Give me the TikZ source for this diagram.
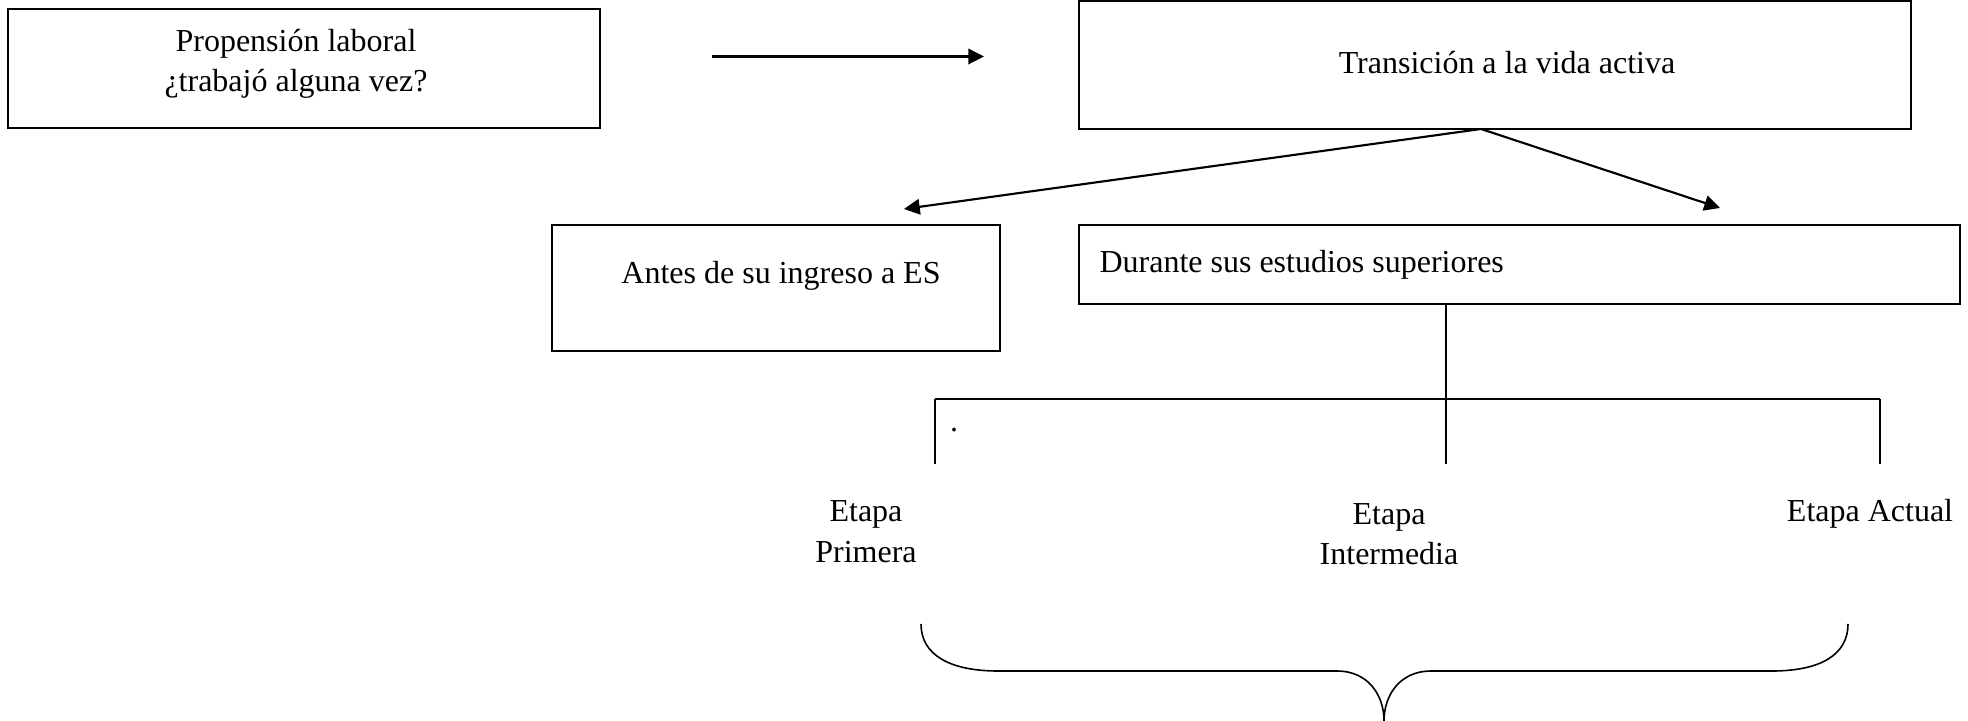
\documentclass[tikz,border=0pt]{standalone}
\usepackage{fontspec}
\setmainfont{Liberation Serif}
\usetikzlibrary{arrows.meta}
\begin{document}
\begin{tikzpicture}[x=0.375pt,y=-0.375pt,
  box/.style={draw, line width=0.75pt, inner sep=0pt, outer sep=0pt, anchor=north west},
  lbl/.style={font=\fontsize{12}{14.5}\selectfont, inner sep=0pt, align=center},
  conn/.style={line width=0.8pt, -{Triangle[length=5.9pt,width=5.8pt]}},
  thin/.style={line width=0.4pt},
  bar/.style={line width=0.75pt}]
\useasboundingbox (0,0) rectangle (1968,721);
% boxes
\node[box, minimum width=222.2pt, minimum height=44.7pt] (b1) at (7.5,8.8) {};
\node[box, minimum width=312pt, minimum height=47.8pt] (b2) at (1079,1.5) {};
\node[box, minimum width=168pt, minimum height=47.25pt] (b3) at (552,225) {};
\node[box, minimum width=330.4pt, minimum height=29.6pt] (b4) at (1079,225) {};
\coordinate (b1e) at (712,56.5);
\coordinate (b2w) at (984,56.5);
\coordinate (b2s) at (1481,129);
\coordinate (b3t) at (904,209);
\coordinate (b4t) at (1720,208);
\coordinate (b4s) at (1446,304);
\coordinate (jl) at (935,399);
\coordinate (jr) at (1880,399);
\coordinate (jld) at (935,464);
\coordinate (jrd) at (1880,464);
\coordinate (jmd) at (1446,464);
% texts
\node[lbl] (t1) at (296,44) {Propensión laboral};
\node[lbl] (t1b) at (296,84) {¿trabajó alguna vez?};
\node[lbl] (t2) at (1507,63) {Transición a la vida activa};
\node[lbl] (t3) at (781,276) {Antes de su ingreso a ES};
\node[lbl, anchor=west] (t4) at (1099,265) {Durante sus estudios superiores};
\node[lbl] (dot) at (954,430) {.};
\node[lbl] (e1) at (866,514) {Etapa};
\node[lbl] (e1b) at (866,552) {Primera};
\node[lbl] (e2) at (1389,517) {Etapa};
\node[lbl] (e2b) at (1389,554) {Intermedia};
\node[lbl] (e3) at (1870,514) {Etapa Actual};
% connectors
\draw[conn] (b1e) -- (b2w);
\draw[conn] (b2s) -- (b3t);
\draw[conn] (b2s) -- (b4t);
\draw[thin] (b4s) -- (jmd);
\draw[bar] (jl) -- (jr);
\draw[thin] (jl) -- (jld);
\draw[thin] (jr) -- (jrd);
% brace
\coordinate (bl) at (921,624);
\coordinate (br) at (1848,624);
\coordinate (tip) at (1384,721);
\draw[line width=0.6pt] (bl) .. controls (921,655) and (950,671) .. (998,671)
  -- (1337,671) .. controls (1368,671) and (1384,695) .. (tip)
  .. controls (1384,695) and (1400,671) .. (1431,671)
  -- (1772,671) .. controls (1820,671) and (1848,655) .. (br);
\end{tikzpicture}
\end{document}
